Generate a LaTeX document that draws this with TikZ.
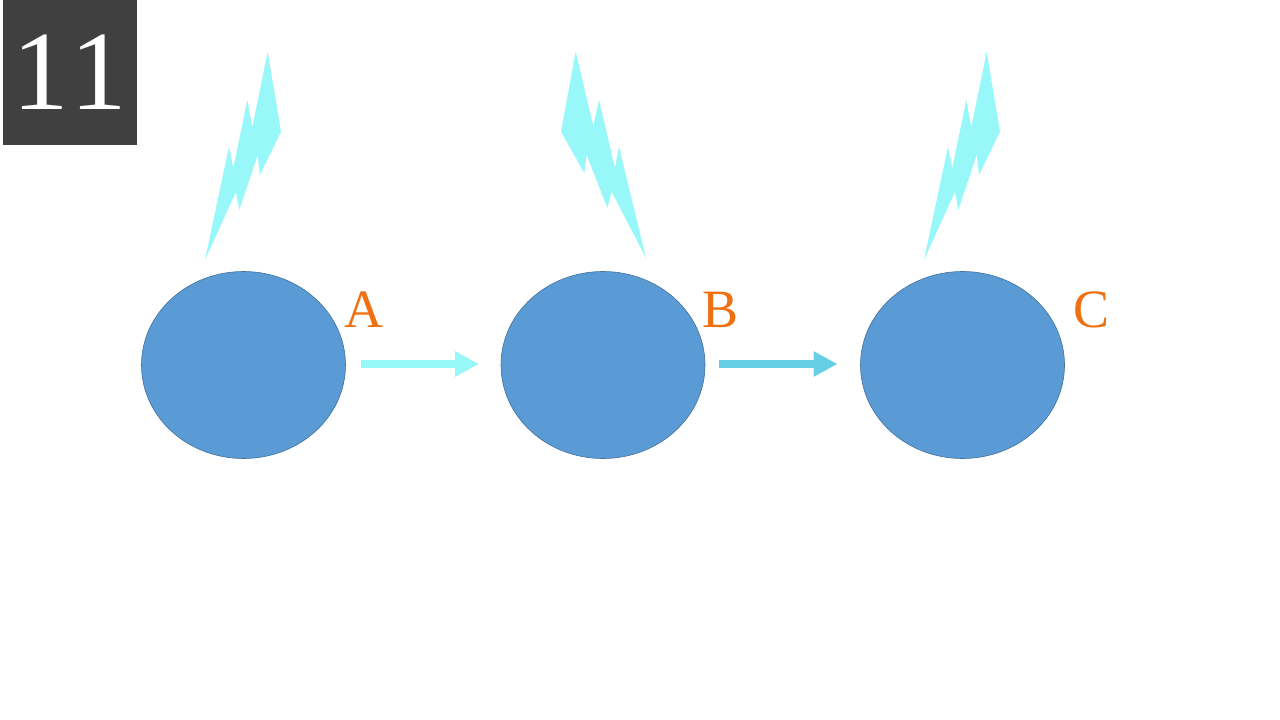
\documentclass[tikz,border=0pt]{standalone}
\usepackage{fontspec}
\setmainfont{Liberation Serif}
\usetikzlibrary{arrows.meta,shapes.geometric}
\definecolor{boxgray}{HTML}{404040}
\definecolor{discblue}{HTML}{5B9BD5}
\definecolor{discline}{HTML}{41719C}
\definecolor{boltcyan}{HTML}{98F7F9}
\definecolor{arrowcyan}{HTML}{66CFE6}
\definecolor{letterorange}{HTML}{EF7010}
\tikzset{
  disc/.style={ellipse, draw=discline, fill=discblue, line width=0.6pt, minimum width=204pt, minimum height=187pt, inner sep=0pt, outer sep=0pt},
  letter/.style={text=letterorange, font=\fontsize{54}{54}\selectfont, inner sep=0pt},
  bolt/.style={fill=boltcyan},
  flow/.style={line width=8pt, -{Triangle[length=24pt,width=24pt]}}
}
\begin{document}
\begin{tikzpicture}[x=1pt,y=-1pt]
\useasboundingbox (0,0) rectangle (1280,720);

% Number box
\node[fill=boxgray, text=white, minimum width=134pt, minimum height=145pt, inner sep=0pt, font=\fontsize{113}{113}\selectfont] (numbox) at (70,72.5) {1\kern2pt 1};

% Lightning
\fill[bolt] (267.7,51.7) -- (281,131.7) -- (260,175) -- (257.7,155) -- (239.3,210) -- (236,191.7) -- (205,260) -- (229,146.7) -- (233.3,168.3) -- (247.3,100) -- (252.3,127.3) -- cycle;
\fill[bolt] (575.7,51.7) -- (561,131.7) -- (584.3,173) -- (586.7,155) -- (607.3,208) -- (611.7,191.7) -- (646,258) -- (619,146.7) -- (615,168) -- (599,100) -- (593.3,126) -- cycle;
\fill[bolt] (986.7,51.7) -- (1000,131.7) -- (979,175) -- (976.7,155) -- (958.3,210) -- (955,191.7) -- (924,260) -- (948,146.7) -- (952.3,168.3) -- (966.3,100) -- (971.3,127.3) -- cycle;

% Discs
\node[disc] (discA) at (243.5,365) {};
\node[disc] (discB) at (603,365) {};
\node[disc] (discC) at (962.5,365) {};

% Letters
\node[letter] (labelA) at (363.5,310) {A};
\node[letter] (labelB) at (721,310) {B};
\node[letter] (labelC) at (1091,310) {C};

% Arrows
\draw[flow, boltcyan, shorten <=15pt, shorten >=22pt] ([yshift=1pt]discA.east) -- ([yshift=1pt]discB.west);
\draw[flow, arrowcyan, shorten <=14pt, shorten >=23pt] ([yshift=1pt]discB.east) -- ([yshift=1pt]discC.west);
\end{tikzpicture}
\end{document}
